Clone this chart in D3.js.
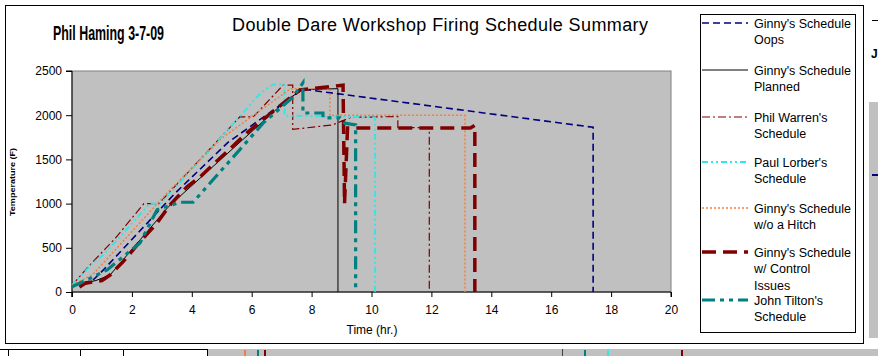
<!DOCTYPE html>
<html><head><meta charset="utf-8">
<script src="https://cdn.jsdelivr.net/npm/d3@7"></script>
<style>
html,body{margin:0;padding:0;background:#fff;}
svg{display:block;font-family:"Liberation Sans",Arial,sans-serif;}
</style></head>
<body><svg id="c" width="878" height="356"></svg>
<script>
// ---------- data ----------
const xTicks = [0,2,4,6,8,10,12,14,16,18,20];
const yTicks = [0,500,1000,1500,2000,2500];

const oopsTime = [0, 0.7, 1.05, 3.45, 5.2, 7.7, 17.4, 17.4];
const oopsTemp = [65, 135, 250, 1120, 1690, 2295, 1863, 0];

const plannedTime = [0, 0.8, 1.27, 3.22, 7.17, 7.7, 8.88, 8.88];
const plannedTemp = [70, 130, 192, 965, 2172, 2290, 2300, 0];

const philTime = [0, 0.5, 1.45, 2.4, 2.9, 5.6, 6.05, 7.05, 7.37, 7.37, 8.7, 9.3, 10.88, 10.88, 11.93, 11.93];
const philTemp = [75, 270, 610, 1000, 1000, 1980, 1980, 2340, 2340, 1840, 1890, 1975, 1985, 1860, 1860, 0];

const paulTime = [0, 0.7, 1.05, 2.6, 2.95, 4.5, 6.3, 6.7, 7.08, 7.1, 10.12, 10.12];
const paulTemp = [75, 330, 420, 1000, 1000, 1570, 2250, 2345, 2350, 1995, 1975, 0];

const hitchTime = [0, 0.7, 3.2, 5.0, 7.3, 8.61, 8.61, 13.12, 13.12];
const hitchTemp = [75, 200, 1130, 1740, 2300, 2300, 2000, 2000, 0];

const controlTime = [0.25, 0.45, 1.0, 1.27, 1.7, 2.17, 2.84, 3.27, 3.84, 4.27, 5.84, 7.18, 7.61, 9.05, 9.1, 9.2, 13.3, 13.45, 13.45];
const controlTemp = [55, 100, 130, 192, 340, 530, 780, 985, 1190, 1300, 1800, 2170, 2285, 2340, 1000, 1855, 1855, 1885, 0];

const tiltonTime = [0, 0.7, 1.17, 2.27, 2.84, 3.6, 4.04, 4.5, 5.68, 6.38, 7.38, 7.71, 7.71, 8.38, 8.38, 8.95, 9.1, 9.47, 9.47];
const tiltonTemp = [60, 170, 250, 555, 930, 1015, 1015, 1190, 1640, 1910, 2205, 2365, 2025, 2025, 1970, 1970, 1910, 1890, 0];

const seriesNames = [
  ["Ginny's Schedule","Oops"],
  ["Ginny's Schedule","Planned"],
  ["Phil Warren's","Schedule"],
  ["Paul Lorber's","Schedule"],
  ["Ginny's Schedule","w/o a Hitch"],
  ["Ginny's Schedule","w/ Control","Issues"],
  ["John Tilton's","Schedule"]
];

// ---------- styles ----------
const styles = [
  {color:"#000080", width:1.6, dash:"7,4"},
  {color:"#000000", width:1, dash:null},
  {color:"#800000", width:1.2, dash:"8,3,2,3"},
  {color:"#33E6E6", width:2, dash:"6,3,2,3,2,3"},
  {color:"#F08040", width:1.5, dash:"2,2"},
  {color:"#800000", width:3.5, dash:"14,7"},
  {color:"#008080", width:3.2, dash:"13,5,4,5,4,5"}
];
const seriesData = [
  [oopsTime, oopsTemp],
  [plannedTime, plannedTemp],
  [philTime, philTemp],
  [paulTime, paulTemp],
  [hitchTime, hitchTemp],
  [controlTime, controlTemp],
  [tiltonTime, tiltonTemp]
];

const svg = d3.select("#c");
// frame
svg.append("rect").attr("x",5.5).attr("y",5.5).attr("width",858).attr("height",338)
  .attr("fill","#fff").attr("stroke","#000").attr("stroke-width",1);

const x = d3.scaleLinear().domain([0,20]).range([72,671]);
const y = d3.scaleLinear().domain([0,2500]).range([292,71]);

// plot area
svg.append("rect").attr("x",x(0)).attr("y",y(2500)).attr("width",x(20)-x(0)).attr("height",y(0)-y(2500))
  .attr("fill","#C0C0C0").attr("stroke","#808080").attr("stroke-width",1);

// axes
const xAxis = d3.axisBottom(x).tickValues(xTicks).tickSize(5).tickPadding(8).tickFormat(d3.format("d"));
const yAxis = d3.axisLeft(y).tickValues(yTicks).tickSize(6).tickPadding(4).tickFormat(d3.format("d"));
const gx = svg.append("g").attr("transform",`translate(0,${y(0)})`).call(xAxis);
const gy = svg.append("g").attr("transform",`translate(${x(0)},0)`).call(yAxis);
[gx,gy].forEach(g=>{
  g.selectAll("path").attr("stroke","#000");
  g.selectAll("line").attr("stroke","#000");
  g.selectAll("text").attr("font-size","12px").attr("fill","#000").attr("font-family","Liberation Sans, Arial, sans-serif");
});
gy.select(".domain").attr("d",`M-6,${y(2500)}H0V${y(0)}`);
gx.select(".domain").attr("d",`M${x(0)},0V5V0H${x(20)}V5`);

// series
const line = d3.line().x(d=>x(d[0])).y(d=>y(d[1]));
const plot = svg.append("g");
seriesData.forEach((s,i)=>{
  const pts = s[0].map((t,j)=>[t, s[1][j]]);
  const st = styles[i];
  plot.append("path").datum(pts).attr("d",line)
    .attr("fill","none").attr("stroke",st.color).attr("stroke-width",st.width)
    .attr("stroke-dasharray",st.dash).attr("stroke-linejoin","miter").attr("stroke-linecap","butt");
});

// axis titles
svg.append("text").attr("x",372).attr("y",334).attr("text-anchor","middle")
  .attr("font-size","12px").text("Time (hr.)");
svg.append("text").attr("transform","translate(15,182) rotate(-90)").attr("text-anchor","middle")
  .attr("font-size","8px").attr("font-weight","bold").attr("textLength",68).attr("lengthAdjust","spacingAndGlyphs")
  .text("Temperature (F)");

// titles
svg.append("text").attr("x",440).attr("y",31).attr("text-anchor","middle")
  .attr("font-size","18px").attr("textLength",416).attr("lengthAdjust","spacing")
  .text("Double Dare Workshop Firing Schedule Summary");
svg.append("text").attr("x",53).attr("y",40)
  .attr("font-size","21px").attr("font-weight","bold").attr("textLength",111).attr("lengthAdjust","spacingAndGlyphs")
  .text("Phil Haming  3-7-09");

// legend
const lg = svg.append("g");
lg.append("rect").attr("x",700.5).attr("y",14.5).attr("width",155).attr("height",318)
  .attr("fill","#fff").attr("stroke","#000");
const legY = [23,70,117,162,208,252,300];
seriesNames.forEach((nm,i)=>{
  const st = styles[i];
  lg.append("line").attr("x1",702).attr("x2",748).attr("y1",legY[i]).attr("y2",legY[i])
    .attr("stroke",st.color).attr("stroke-width",st.width).attr("stroke-dasharray",st.dash);
  nm.forEach((t,k)=>{
    lg.append("text").attr("x",754).attr("y",legY[i]+4.5+k*16.5).attr("font-size","12.5px").text(t);
  });
});

// neighbouring sheet fragments (right and bottom)
svg.append("rect").attr("x",869).attr("y",102).attr("width",9).attr("height",236).attr("fill","#C0C0C0");
svg.append("line").attr("x1",872).attr("x2",878).attr("y1",20.5).attr("y2",20.5).attr("stroke","#000");
svg.append("line").attr("x1",872).attr("x2",878).attr("y1",175).attr("y2",175).attr("stroke","#000080").attr("stroke-width",2);
svg.append("text").attr("x",871).attr("y",58).attr("font-size","12px").attr("font-weight","bold").text("J");
svg.append("rect").attr("x",207).attr("y",349).attr("width",671).attr("height",7).attr("fill","#C0C0C0");
svg.append("line").attr("x1",0).attr("x2",207).attr("y1",349.5).attr("y2",349.5).attr("stroke","#000");
[8,80,123,207,562].forEach(v=>{
  svg.append("line").attr("x1",v+0.5).attr("x2",v+0.5).attr("y1",349).attr("y2",356).attr("stroke",v===562?"#404040":"#000");
});
[[245,"#F08040"],[258,"#008080"],[265,"#800000"],[585,"#008080"],[608,"#33E6E6"],[682,"#800000"]].forEach(d=>{
  svg.append("line").attr("x1",d[0]).attr("x2",d[0]).attr("y1",350).attr("y2",356).attr("stroke",d[1]).attr("stroke-width",2);
});
</script>
</body></html>
